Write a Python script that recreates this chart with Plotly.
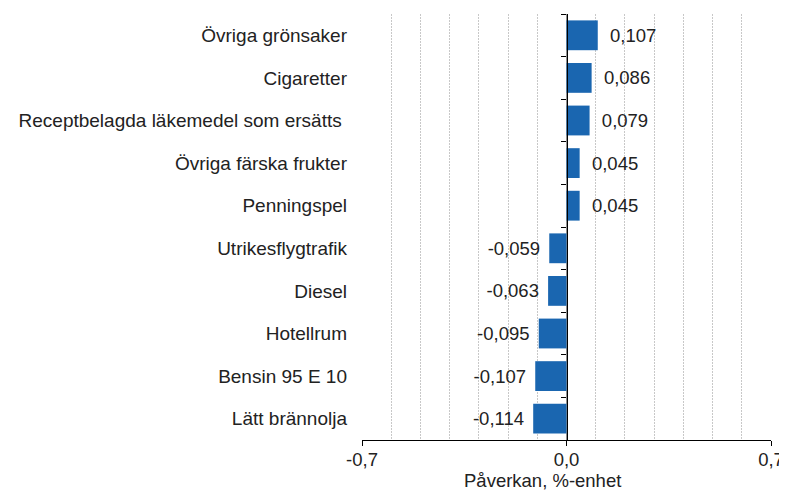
import plotly.graph_objects as go

categories = [
    "Övriga grönsaker",
    "Cigaretter",
    "Receptbelagda läkemedel som ersätts\u00a0",
    "Övriga färska frukter",
    "Penningspel",
    "Utrikesflygtrafik",
    "Diesel",
    "Hotellrum",
    "Bensin 95 E 10",
    "Lätt brännolja",
]
values = [0.107, 0.086, 0.079, 0.045, 0.045, -0.059, -0.063, -0.095, -0.107, -0.114]
x_tick_vals = [-0.7, 0.0, 0.7]
x_tick_text = ["-0,7", "0,0", "0,7"]
x_title = "Påverkan, %-enhet"

FONT = "Liberation Sans, Arial, sans-serif"
TXT = "#222222"

# page body has an 8px default margin; compensate so the plot lands where the reference has it
OFF = 8
W, H = 787 - OFF, 491 - OFF


def fmt(v):
    s = f"{v:.3f}".replace(".", ",")
    return ("\u2002" + s) if v >= 0 else (s + "\u2004")


fig = go.Figure()
fig.add_trace(go.Bar(
    x=values,
    y=categories,
    orientation="h",
    marker=dict(color="#1a66b0", line=dict(width=0)),
    text=[fmt(v) for v in values],
    textposition="outside",
    textfont=dict(family=FONT, size=18.5, color=TXT),
    cliponaxis=False,
    width=0.7,
    showlegend=False,
    hoverinfo="skip",
))

n = len(categories)
fig.add_trace(go.Scatter(
    x=[None], y=[None], yaxis="y2", showlegend=False, hoverinfo="skip",
))

fig.update_layout(
    width=W,
    height=H,
    margin=dict(l=362 - OFF, r=16, t=14 - OFF, b=51, autoexpand=False),
    plot_bgcolor="white",
    paper_bgcolor="white",
    font=dict(family=FONT, size=19, color=TXT),
    separators=", ",
    xaxis=dict(
        range=[-0.7, 0.7],
        tickvals=x_tick_vals,
        ticktext=x_tick_text,
        ticks="outside",
        ticklen=5,
        tickcolor="black",
        showline=True,
        linecolor="black",
        linewidth=1.3,
        showgrid=True,
        gridcolor="#909090",
        gridwidth=1,
        zeroline=False,
        automargin=False,
        ticklabelstandoff=-2,
        minor=dict(dtick=0.1, showgrid=True, gridcolor="#c8c8c8", griddash="2px,1px", gridwidth=1),
        tickfont=dict(size=18.5, color=TXT),
    ),
    yaxis=dict(
        categoryorder="array",
        categoryarray=categories,
        range=[n - 0.5, -0.5],
        showline=False,
        showgrid=False,
        ticks="",
        automargin=False,
        ticklabelstandoff=14,
        tickfont=dict(size=19, color=TXT),
    ),
    yaxis2=dict(
        overlaying="y",
        anchor="free",
        position=0.5,
        side="left",
        range=[n - 0.5, -0.5],
        tickvals=[k - 0.5 for k in range(n + 1)],
        ticks="outside",
        ticklen=5,
        tickcolor="black",
        showticklabels=False,
        showline=True,
        linecolor="black",
        linewidth=1.3,
        showgrid=False,
        zeroline=False,
        automargin=False,
    ),
    annotations=[dict(
        text=x_title,
        xref="paper", yref="paper",
        x=0.4425, y=-0.095,
        xanchor="center", yanchor="middle",
        showarrow=False,
        font=dict(size=18.5, color=TXT),
    )],
)

fig.write_html("out.html")
